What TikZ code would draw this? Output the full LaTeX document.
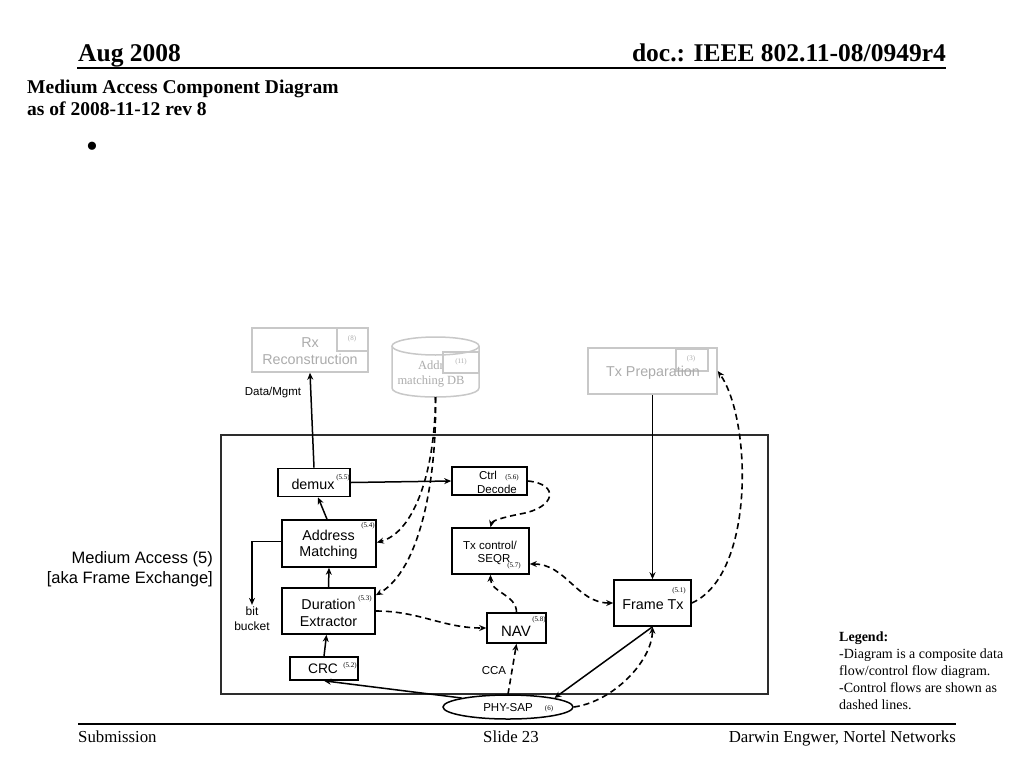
\documentclass[tikz,border=0pt]{standalone}
\usepackage{fontspec}
\setmainfont{Liberation Serif}
\setsansfont{Liberation Sans}
\usetikzlibrary{shapes.geometric,arrows.meta}
\definecolor{ghost}{RGB}{200,200,200}
\definecolor{ghosttext}{RGB}{172,172,172}
\definecolor{frameline}{RGB}{45,45,45}
\begin{document}
\begin{tikzpicture}[x=1pt,y=-1pt,
  box/.style={draw, line width=1.6pt, inner sep=0pt},
  gbox/.style={draw=ghost, line width=1.5pt, inner sep=0pt},
  txt/.style={inner sep=0pt, font=\sffamily\fontsize{14.3}{16.5}\selectfont, align=center},
  stxt/.style={inner sep=0pt, font=\sffamily\fontsize{11.5}{14}\selectfont, align=center},
  gtxt/.style={txt, text=ghosttext},
  tagl/.style={inner sep=0pt, font=\rmfamily\fontsize{7}{7}\selectfont},
  gtag/.style={tagl, text=ghosttext},
  hdr/.style={inner sep=0pt, font=\rmfamily\bfseries\fontsize{25.5}{30}\selectfont},
  ttl/.style={inner sep=0pt, font=\rmfamily\bfseries\fontsize{19.5}{23}\selectfont},
  foot/.style={inner sep=0pt, font=\rmfamily\fontsize{16.8}{20}\selectfont},
  leg/.style={inner sep=0pt, font=\rmfamily\fontsize{14}{17}\selectfont},
  dat/.style={line width=1.5pt, -{Stealth[length=7pt,width=6pt]}},
  ctl/.style={line width=1.6pt, dash pattern=on 6pt off 4pt, -{Stealth[length=7pt,width=6pt]}},
  ctlboth/.style={line width=1.6pt, dash pattern=on 6pt off 4pt, {Stealth[length=7pt,width=6pt]}-{Stealth[length=7pt,width=6pt]}}
]
\useasboundingbox[fill=white] (0,0) rectangle (1024,768);

% header
\node[hdr, anchor=base west] (hleft) at (78,62) {Aug 2008};
\node[hdr, anchor=base east] (hright) at (946,62) {doc.: IEEE 802.11-08/0949r4};
\draw[line width=1.6pt] (77,68) -- (946,68);
\node[ttl, anchor=base west] (t1) at (27,93) {Medium Access Component Diagram};
\node[ttl, anchor=base west] (t2) at (27,115) {as of 2008-11-12 rev 8};
\node[inner sep=0pt, font=\rmfamily\fontsize{34}{34}\selectfont] (bul) at (92,150) {\textbullet};

% footer
\draw[line width=1.3pt] (78,724) -- (956,724);
\node[foot, anchor=base west] (f1) at (78,742) {Submission};
\node[foot, anchor=base] (f2) at (511,742) {Slide 23};
\node[foot, anchor=base east] (f3) at (956,742) {Darwin Engwer, Nortel Networks};

% ghost components
\node[gbox, minimum width=116, minimum height=44] (rx) at (310,350) {};
\node[gbox, minimum width=31, minimum height=23] (rxt) at (352.5,339.5) {};
\node[gtag] (rxtag) at (352,339) {(8)};
\node[gtxt] (rxl) at (310,351) {Rx\\Reconstruction};

\draw[ghost, line width=1.5pt, fill=white] (392,346) -- (392,388) .. controls (392,400) and (479,400) .. (479,388) -- (479,346);
\draw[ghost, line width=1.5pt, fill=white] (435.5,346) ellipse[x radius=43.5pt, y radius=9pt];
\coordinate (dbb) at (435.5,397);
\node[gtxt, font=\rmfamily\fontsize{12.5}{14.5}\selectfont] (dbl) at (431,374) {Addr\\matching DB};
\node[gbox, minimum width=36, minimum height=21] (dbt) at (461,362.5) {};
\node[gtag] (dbtag) at (461,362) {(11)};

\node[gbox, minimum width=129, minimum height=46] (txp) at (652.5,371) {};
\node[gbox, minimum width=32, minimum height=22] (txpt) at (692,360) {};
\node[gtag] (txptag) at (691,359) {(3)};
\node[gtxt] (txpl) at (653,373) {Tx Preparation};

% main frame
\node[draw=frameline, line width=1.6pt, minimum width=547, minimum height=259, inner sep=0pt] (ma) at (494.5,564.5) {};
\node[inner sep=0pt, font=\sffamily\fontsize{16.5}{20}\selectfont, align=right, anchor=east] (mal) at (213,569) {Medium Access (5)\\{}[aka Frame Exchange]};

% components
\node[box, minimum width=72, minimum height=28] (demux) at (314,482.5) {};
\node[txt] (demuxl) at (313,484) {demux};
\node[tagl] (demuxt) at (343,478) {(5.5)};

\node[box, minimum width=75, minimum height=28] (ctrl) at (489.5,481) {};
\node[stxt] (ctrl1) at (488,475) {Ctrl};
\node[stxt] (ctrl2) at (497,489.5) {Decode};
\node[tagl] (ctrlt) at (512,478) {(5.6)};

\node[box, minimum width=94, minimum height=47] (am) at (329,543.5) {};
\node[txt] (aml) at (328.5,545) {Address\\Matching};
\node[tagl] (amt) at (368,526) {(5.4)};

\node[box, minimum width=77, minimum height=46] (txc) at (490.5,551) {};
\node[stxt] (txc1) at (490,545) {Tx control/};
\node[stxt] (txc2) at (494,560) {SEQR};
\node[tagl] (txct) at (514,566) {(5.7)};

\node[box, minimum width=93, minimum height=46] (de) at (328.5,611) {};
\node[txt] (del) at (328.5,613) {Duration\\Extractor};
\node[tagl] (det) at (365,599) {(5.3)};

\node[box, minimum width=59, minimum height=30] (nav) at (516.5,628) {};
\node[txt, font=\sffamily\fontsize{15}{16}\selectfont] (navl) at (516,631) {NAV};
\node[tagl] (navt) at (539,620) {(5.8)};

\node[box, minimum width=68, minimum height=23] (crc) at (324,668.5) {};
\node[txt, font=\sffamily\fontsize{13.8}{16}\selectfont] (crcl) at (323,669) {CRC};
\node[tagl] (crct) at (350,666) {(5.2)};

\node[box, minimum width=77, minimum height=46] (ftx) at (652.5,603) {};
\node[txt] (ftxl) at (653,605) {Frame Tx};
\node[tagl] (ftxt) at (679,591) {(5.1)};

\node[draw, ellipse, line width=1.5pt, inner sep=0pt, minimum width=130, minimum height=24] (phy) at (508,707) {};
\node[stxt] (phyl) at (508,708) {PHY-SAP};
\node[tagl] (phyt) at (549,709) {(6)};

\node[stxt] (cca) at (494,671) {CCA};
\node[stxt] (dm) at (273,393) {Data/Mgmt};
\node[inner sep=2pt, font=\sffamily\fontsize{12}{15}\selectfont, align=center] (bb) at (252,619) {bit\\bucket};

% legend
\node[leg, anchor=base west, font=\rmfamily\bfseries\fontsize{14}{17}\selectfont] (lg0) at (839,641) {Legend:};
\node[leg, anchor=base west] (lg1) at (839,658) {-Diagram is a composite data};
\node[leg, anchor=base west] (lg2) at (839,675) {flow/control flow diagram.};
\node[leg, anchor=base west] (lg3) at (839,692) {-Control flows are shown as};
\node[leg, anchor=base west] (lg4) at (839,709) {dashed lines.};

% data flows
\draw[dat] (demux.north) -- (rx.south);
\draw[dat] (demux.east) -- (ctrl.west);
\draw[dat] ([xshift=-2pt]am.north) -- ([xshift=4pt]demux.south);
\draw[dat] ([yshift=2pt]am.west) -| (bb.north);
\draw[dat] (de.north) -- (am.south);
\draw[dat] (crc.north) -- ([xshift=-2pt]de.south);
\draw[dat] (phy.north west) -- (crc.south);
\draw[dat] (ftx.south) -- (phy.north east);
\draw[dat] (txp.south) -- (ftx.north);

% control flows
\draw[ctl] (ftx.east) .. controls (755,575) and (752,420) .. (txp.east);
\draw[ctl] (ctrl.east) .. controls (560,484) and (556,508) .. (520,514) .. controls (500,518) and (492,521) .. (txc.north);
\draw[ctlboth] ([yshift=-13pt]txc.east) to[out=0,in=180] (ftx.west);
\draw[ctl] (nav.north) to[out=90,in=-90] (txc.south);
\draw[ctl] (de.east) to[out=0,in=180] (nav.west);
\draw[ctl] (phy.north) -- (nav.south);
\draw[ctl] (phy.east) .. controls (612,702) and (652,662) .. (ftx.south);
\draw[ctl] (dbb) .. controls (435,470) and (415,532) .. ([yshift=1pt]am.east);
\draw[ctl] (dbb) .. controls (437,480) and (420,570) .. ([yshift=-8pt]de.north east);
\end{tikzpicture}
\end{document}
